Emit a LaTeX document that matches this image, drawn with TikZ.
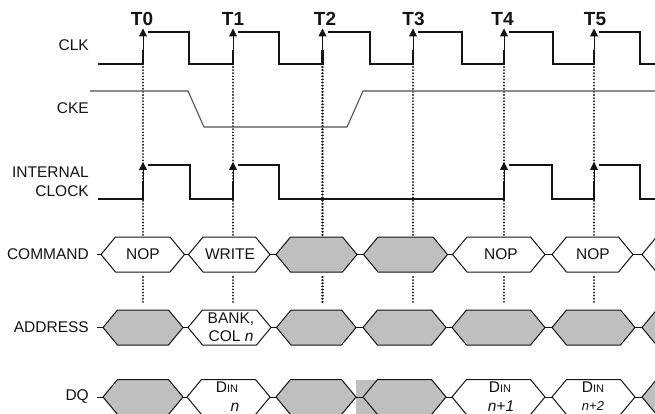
\documentclass[tikz,border=0pt]{standalone}
\usepackage{fontspec}
\setmainfont{Liberation Sans}
\usetikzlibrary{arrows.meta}
\definecolor{hexgray}{RGB}{191,191,191}
\definecolor{ckegray}{RGB}{80,80,80}
\definecolor{ink}{RGB}{20,20,20}
\tikzset{
  sig/.style={line width=2.1pt, draw=ink, line join=miter},
  edgearrow/.style={line width=1pt, draw=ink, -{Triangle[width=8pt,length=8pt]}},
  guide/.style={line width=2.1pt, dash pattern=on 0.01pt off 3.1pt, line cap=round, draw=ink},
  ckeline/.style={line width=1.1pt, draw=ckegray},
  hexline/.style={line width=1pt, draw=ink},
  lbl/.style={anchor=east, font=\fontsize{15.5}{19}\selectfont, inner sep=0pt, text=ink, align=right},
  tlbl/.style={font=\fontsize{19}{21}\selectfont\bfseries, inner sep=0pt, text=ink},
  hextxt/.style={font=\fontsize{15.5}{18}\selectfont, inner sep=0pt, align=center, text=ink},
}
\newcommand\hexa[4]{% left tip, right tip, centre y, fill
  \filldraw[hexline, fill=#4] (#1,#3) -- ({#1+14.5},{#3-17.5}) -- ({#2-14.5},{#3-17.5})
    -- (#2,#3) -- ({#2-14.5},{#3+17.5}) -- ({#1+14.5},{#3+17.5}) -- cycle;}
\newcommand\dinsym{D{\fontsize{11}{12}\selectfont IN}}
\begin{document}
\begin{tikzpicture}[x=1pt,y=-1pt]
\useasboundingbox (0,0) rectangle (655,414);
\clip (0,0) rectangle (655,414);
\fill[white] (0,0) rectangle (655,414);

% clock edge times
\foreach \n/\x in {0/143,1/233,2/322.5,3/413,4/504,5/594}
  \coordinate (T\n) at (\x,64);

% dotted guides
\foreach \n in {0,...,5}{
  \draw[guide] ([yshift=-3pt]T\n) -- ([yshift=-173pt]T\n);
  \draw[guide] ([yshift=-213pt]T\n) -- ([yshift=-239pt]T\n);
}

% time labels
\node[tlbl] (t0) at (142,19) {T0};
\node[tlbl] (t1) at (233,19) {T1};
\node[tlbl] (t2) at (325,19) {T2};
\node[tlbl] (t3) at (413.5,19) {T3};
\node[tlbl] (t4) at (502.5,19) {T4};
\node[tlbl] (t5) at (595,19) {T5};

% signal labels
\node[lbl] (lclk) at (89,45) {CLK};
\node[lbl] (lcke) at (89,108) {CKE};
\node[lbl] (lint) at (89,181.5) {INTERNAL\\CLOCK};
\node[lbl] (lcmd) at (89,254.5) {COMMAND};
\node[lbl] (ladr) at (89,327.5) {ADDRESS};
\node[lbl] (ldq)  at (89,397) {DQ};

% CLK
\draw[sig] (98,64) -- (143,64) -- (143,50);
\foreach \t/\f/\nx in {143/189/233, 233/279/322.5, 322.5/370/413, 413/462/504, 504/553/594}
  \draw[sig] ({\t+5},32) -- (\f,32) -- (\f,64) -- (\nx,64) -- (\nx,50);
\draw[sig] (599,32) -- (640,32) -- (640,64) -- (660,64);
\foreach \x in {143,233,322.5,413,504,594}
  \draw[edgearrow] (\x,64) -- (\x,28.5);

% CKE
\draw[ckeline] (90,91) -- (188,91) -- (204,127) -- (347,127) -- (363,91) -- (660,91);

% INTERNAL CLOCK
\draw[sig] (98,199) -- (143,199) -- (143,181);
\draw[sig] (148,165) -- (190,165) -- (190,199) -- (233,199) -- (233,181);
\draw[sig] (238,165) -- (279,165) -- (279,199) -- (504,199) -- (504,181);
\draw[sig] (509,165) -- (552,165) -- (552,199) -- (594,199) -- (594,181);
\draw[sig] (599,165) -- (640,165) -- (640,199) -- (660,199);
\foreach \x in {143,233,504,594}
  \draw[edgearrow] (\x,199) -- (\x,162);

% COMMAND row
\draw[hexline] (97,254.5) -- (660,254.5);
\hexa{101}{184.5}{254.5}{white}
\hexa{188.5}{270}{254.5}{white}
\hexa{276}{357}{254.5}{hexgray}
\hexa{363.5}{447.5}{254.5}{hexgray}
\hexa{452.5}{545}{254.5}{white}
\hexa{552}{633}{254.5}{white}
\hexa{642}{740}{254.5}{white}
\node[hextxt] (c0) at (143,254.5) {NOP};
\node[hextxt] (c1) at (230,254.5) {WRITE};
\node[hextxt] (c4) at (501,254.5) {NOP};
\node[hextxt] (c5) at (593,254.5) {NOP};

% ADDRESS row
\draw[hexline] (97,327.5) -- (660,327.5);
\hexa{103}{183}{327.5}{hexgray}
\hexa{188}{271}{327.5}{white}
\hexa{276.5}{356}{327.5}{hexgray}
\hexa{363}{446}{327.5}{hexgray}
\hexa{452}{545}{327.5}{hexgray}
\hexa{552}{635}{327.5}{hexgray}
\hexa{642}{740}{327.5}{hexgray}
\node[hextxt] (a1) at (231,327.5) {BANK,\\COL \textit{n}};

% DQ row
\fill[hexgray] (356,379.5) rectangle (378,414.5);
\draw[hexline] (97,397) -- (660,397);
\hexa{103}{183}{397}{hexgray}
\hexa{187}{270}{397}{white}
\hexa{276}{356}{397}{hexgray}
\hexa{363}{446}{397}{hexgray}
\hexa{452}{545}{397}{white}
\hexa{552}{635}{397}{white}
\hexa{642}{740}{397}{hexgray}
\node[hextxt] (d1) at (227,387) {\dinsym};
\node[hextxt] (d1n) at (235,407) {\textit{n}};
\node[hextxt] (d4) at (500,387) {\dinsym};
\node[hextxt] (d4n) at (501,406) {\textit{n+1}};
\node[hextxt] (d5) at (593,387) {\dinsym};
\node[hextxt, font=\fontsize{13}{15}\selectfont] (d5n) at (593,406) {\textit{n+2}};
\end{tikzpicture}
\end{document}
